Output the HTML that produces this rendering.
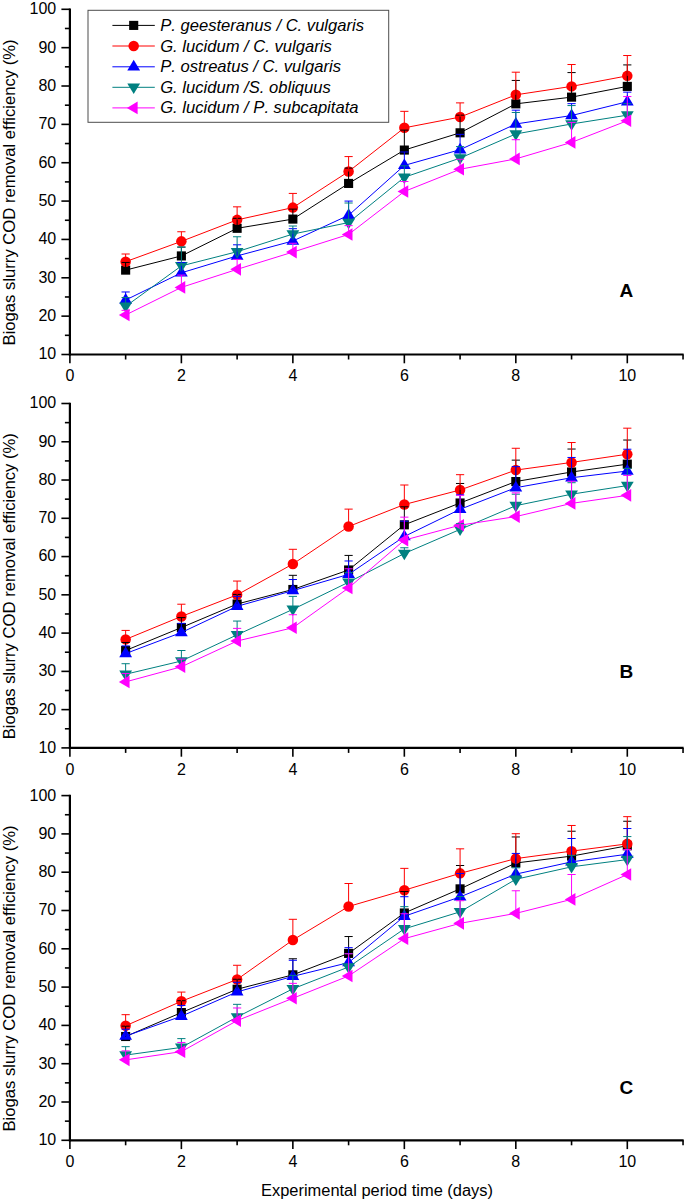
<!DOCTYPE html>
<html lang="en">
<head>
<meta charset="utf-8">
<title>Biogas slurry COD removal efficiency</title>
<style>
html,body{margin:0;padding:0;background:#fff;}
body{width:685px;height:1203px;overflow:hidden;font-family:"Liberation Sans",Arial,sans-serif;}
svg{display:block;}
text{font-kerning:none;font-variant-ligatures:none;}
</style>
</head>
<body>
<svg width="685" height="1203" viewBox="0 0 685 1203" font-family="Liberation Sans, Arial, sans-serif">
<rect width="685" height="1203" fill="#ffffff"/>
<g stroke="#000" stroke-width="2.2" fill="none" stroke-linecap="butt">
<path d="M69.90,8.50 V355.50"/>
<path d="M68.90,354.50 H683.64"/>
</g>
<g stroke="#000" stroke-width="1.6" fill="none">
<path d="M61.40,354.50 H69.90"/>
<path d="M64.90,335.32 H69.90"/>
<path d="M61.40,316.14 H69.90"/>
<path d="M64.90,296.97 H69.90"/>
<path d="M61.40,277.79 H69.90"/>
<path d="M64.90,258.61 H69.90"/>
<path d="M61.40,239.43 H69.90"/>
<path d="M64.90,220.26 H69.90"/>
<path d="M61.40,201.08 H69.90"/>
<path d="M64.90,181.90 H69.90"/>
<path d="M61.40,162.72 H69.90"/>
<path d="M64.90,143.54 H69.90"/>
<path d="M61.40,124.37 H69.90"/>
<path d="M64.90,105.19 H69.90"/>
<path d="M61.40,86.01 H69.90"/>
<path d="M64.90,66.83 H69.90"/>
<path d="M61.40,47.66 H69.90"/>
<path d="M64.90,28.48 H69.90"/>
<path d="M61.40,9.30 H69.90"/>
<path d="M69.90,354.50 V363.30"/>
<path d="M125.64,354.50 V359.50"/>
<path d="M181.38,354.50 V363.30"/>
<path d="M237.12,354.50 V359.50"/>
<path d="M292.86,354.50 V363.30"/>
<path d="M348.60,354.50 V359.50"/>
<path d="M404.34,354.50 V363.30"/>
<path d="M460.08,354.50 V359.50"/>
<path d="M515.82,354.50 V363.30"/>
<path d="M571.56,354.50 V359.50"/>
<path d="M627.30,354.50 V363.30"/>
<path d="M683.04,354.50 V359.50"/>
</g>
<g font-size="16.0" fill="#000">
<text x="56.20" y="359.40" text-anchor="end">10</text>
<text x="56.20" y="321.04" text-anchor="end">20</text>
<text x="56.20" y="282.69" text-anchor="end">30</text>
<text x="56.20" y="244.33" text-anchor="end">40</text>
<text x="56.20" y="205.98" text-anchor="end">50</text>
<text x="56.20" y="167.62" text-anchor="end">60</text>
<text x="56.20" y="129.27" text-anchor="end">70</text>
<text x="56.20" y="90.91" text-anchor="end">80</text>
<text x="56.20" y="52.56" text-anchor="end">90</text>
<text x="56.20" y="14.20" text-anchor="end">100</text>
<text x="69.90" y="381.20" text-anchor="middle">0</text>
<text x="181.38" y="381.20" text-anchor="middle">2</text>
<text x="292.86" y="381.20" text-anchor="middle">4</text>
<text x="404.34" y="381.20" text-anchor="middle">6</text>
<text x="515.82" y="381.20" text-anchor="middle">8</text>
<text x="627.30" y="381.20" text-anchor="middle">10</text>
</g>
<text transform="translate(15.4,192.40) rotate(-90)" font-size="16.65" text-anchor="middle" fill="#000">Biogas slurry COD removal efficiency (%)</text>
<text x="619.5" y="297" font-size="19" font-weight="bold" fill="#000">A</text>
<polyline points="125.64,270.12 181.38,255.93 237.12,228.31 292.86,219.10 348.60,183.43 404.34,150.06 460.08,132.80 515.82,103.85 571.56,97.13 627.30,86.39" fill="none" stroke="#000000" stroke-width="1"/>
<rect x="121.09" y="265.57" width="9.1" height="9.1" fill="#000000"/>
<rect x="176.83" y="251.38" width="9.1" height="9.1" fill="#000000"/>
<rect x="232.57" y="223.76" width="9.1" height="9.1" fill="#000000"/>
<rect x="288.31" y="214.55" width="9.1" height="9.1" fill="#000000"/>
<rect x="344.05" y="178.88" width="9.1" height="9.1" fill="#000000"/>
<rect x="399.79" y="145.51" width="9.1" height="9.1" fill="#000000"/>
<rect x="455.53" y="128.25" width="9.1" height="9.1" fill="#000000"/>
<rect x="511.27" y="99.30" width="9.1" height="9.1" fill="#000000"/>
<rect x="567.01" y="92.58" width="9.1" height="9.1" fill="#000000"/>
<rect x="622.75" y="81.84" width="9.1" height="9.1" fill="#000000"/>
<polyline points="125.64,261.68 181.38,241.35 237.12,219.87 292.86,207.60 348.60,171.54 404.34,127.82 460.08,117.08 515.82,94.83 571.56,86.39 627.30,75.85" fill="none" stroke="#ff0000" stroke-width="1"/>
<circle cx="125.64" cy="261.68" r="5.25" fill="#ff0000"/>
<circle cx="181.38" cy="241.35" r="5.25" fill="#ff0000"/>
<circle cx="237.12" cy="219.87" r="5.25" fill="#ff0000"/>
<circle cx="292.86" cy="207.60" r="5.25" fill="#ff0000"/>
<circle cx="348.60" cy="171.54" r="5.25" fill="#ff0000"/>
<circle cx="404.34" cy="127.82" r="5.25" fill="#ff0000"/>
<circle cx="460.08" cy="117.08" r="5.25" fill="#ff0000"/>
<circle cx="515.82" cy="94.83" r="5.25" fill="#ff0000"/>
<circle cx="571.56" cy="86.39" r="5.25" fill="#ff0000"/>
<circle cx="627.30" cy="75.85" r="5.25" fill="#ff0000"/>
<polyline points="125.64,300.04 181.38,272.80 237.12,255.93 292.86,240.97 348.60,215.27 404.34,165.41 460.08,149.68 515.82,123.98 571.56,115.54 627.30,101.74" fill="none" stroke="#0000ff" stroke-width="1"/>
<polygon points="125.64,293.04 119.24,303.74 132.04,303.74" fill="#0000ff"/>
<polygon points="181.38,265.80 174.98,276.50 187.78,276.50" fill="#0000ff"/>
<polygon points="237.12,248.93 230.72,259.63 243.52,259.63" fill="#0000ff"/>
<polygon points="292.86,233.97 286.46,244.67 299.26,244.67" fill="#0000ff"/>
<polygon points="348.60,208.27 342.20,218.97 355.00,218.97" fill="#0000ff"/>
<polygon points="404.34,158.41 397.94,169.11 410.74,169.11" fill="#0000ff"/>
<polygon points="460.08,142.68 453.68,153.38 466.48,153.38" fill="#0000ff"/>
<polygon points="515.82,116.98 509.42,127.68 522.22,127.68" fill="#0000ff"/>
<polygon points="571.56,108.54 565.16,119.24 577.96,119.24" fill="#0000ff"/>
<polygon points="627.30,94.74 620.90,105.44 633.70,105.44" fill="#0000ff"/>
<polyline points="125.64,306.36 181.38,265.90 237.12,251.71 292.86,234.06 348.60,222.56 404.34,177.30 460.08,158.12 515.82,133.96 571.56,123.98 627.30,115.16" fill="none" stroke="#008080" stroke-width="1"/>
<polygon points="125.64,313.06 119.24,302.56 132.04,302.56" fill="#008080"/>
<polygon points="181.38,272.60 174.98,262.10 187.78,262.10" fill="#008080"/>
<polygon points="237.12,258.41 230.72,247.91 243.52,247.91" fill="#008080"/>
<polygon points="292.86,240.76 286.46,230.26 299.26,230.26" fill="#008080"/>
<polygon points="348.60,229.26 342.20,218.76 355.00,218.76" fill="#008080"/>
<polygon points="404.34,184.00 397.94,173.50 410.74,173.50" fill="#008080"/>
<polygon points="460.08,164.82 453.68,154.32 466.48,154.32" fill="#008080"/>
<polygon points="515.82,140.66 509.42,130.16 522.22,130.16" fill="#008080"/>
<polygon points="571.56,130.68 565.16,120.18 577.96,120.18" fill="#008080"/>
<polygon points="627.30,121.86 620.90,111.36 633.70,111.36" fill="#008080"/>
<polyline points="125.64,314.99 181.38,287.38 237.12,269.35 292.86,252.09 348.60,234.45 404.34,191.49 460.08,169.24 515.82,158.89 571.56,142.39 627.30,120.72" fill="none" stroke="#ff00ff" stroke-width="1"/>
<polygon points="118.84,314.99 129.54,308.69 129.54,321.29" fill="#ff00ff"/>
<polygon points="174.58,287.38 185.28,281.08 185.28,293.68" fill="#ff00ff"/>
<polygon points="230.32,269.35 241.02,263.05 241.02,275.65" fill="#ff00ff"/>
<polygon points="286.06,252.09 296.76,245.79 296.76,258.39" fill="#ff00ff"/>
<polygon points="341.80,234.45 352.50,228.15 352.50,240.75" fill="#ff00ff"/>
<polygon points="397.54,191.49 408.24,185.19 408.24,197.79" fill="#ff00ff"/>
<polygon points="453.28,169.24 463.98,162.94 463.98,175.54" fill="#ff00ff"/>
<polygon points="509.02,158.89 519.72,152.59 519.72,165.19" fill="#ff00ff"/>
<polygon points="564.76,142.39 575.46,136.09 575.46,148.69" fill="#ff00ff"/>
<polygon points="620.50,120.72 631.20,114.42 631.20,127.02" fill="#ff00ff"/>
<path d="M125.64,270.12 V262.45 M121.54,262.45 H129.74 M181.38,255.93 V247.10 M177.28,247.10 H185.48 M237.12,228.31 V218.34 M233.02,218.34 H241.22 M292.86,219.10 V209.13 M288.76,209.13 H296.96 M348.60,183.43 V168.09 M344.50,168.09 H352.70 M404.34,150.06 V130.12 M400.24,130.12 H408.44 M460.08,132.80 V115.16 M455.98,115.16 H464.18 M515.82,103.85 V80.45 M511.72,80.45 H519.92 M571.56,97.13 V72.59 M567.46,72.59 H575.66 M627.30,86.39 V64.92 M623.20,64.92 H631.40" fill="none" stroke="#000000" stroke-width="1"/>
<path d="M125.64,261.68 V254.01 M121.54,254.01 H129.74 M181.38,241.35 V231.76 M177.28,231.76 H185.48 M237.12,219.87 V206.83 M233.02,206.83 H241.22 M292.86,207.60 V193.41 M288.76,193.41 H296.96 M348.60,171.54 V156.59 M344.50,156.59 H352.70 M404.34,127.82 V111.33 M400.24,111.33 H408.44 M460.08,117.08 V102.89 M455.98,102.89 H464.18 M515.82,94.83 V72.20 M511.72,72.20 H519.92 M571.56,86.39 V64.53 M567.46,64.53 H575.66 M627.30,75.85 V55.52 M623.20,55.52 H631.40" fill="none" stroke="#ff0000" stroke-width="1"/>
<path d="M125.64,300.04 V291.98 M121.54,291.98 H129.74 M181.38,272.80 V262.45 M177.28,262.45 H185.48 M237.12,255.93 V244.80 M233.02,244.80 H241.22 M292.86,240.97 V228.69 M288.76,228.69 H296.96 M348.60,215.27 V201.08 M344.50,201.08 H352.70 M404.34,165.41 V151.98 M400.24,151.98 H408.44 M460.08,149.68 V134.34 M455.98,134.34 H464.18 M515.82,123.98 V110.18 M511.72,110.18 H519.92 M571.56,115.54 V103.65 M567.46,103.65 H575.66 M627.30,101.74 V92.15 M623.20,92.15 H631.40" fill="none" stroke="#0000ff" stroke-width="1"/>
<path d="M125.64,306.36 V297.54 M121.54,297.54 H129.74 M181.38,265.90 V247.10 M177.28,247.10 H185.48 M237.12,251.71 V236.75 M233.02,236.75 H241.22 M292.86,234.06 V226.01 M288.76,226.01 H296.96 M348.60,222.56 V203.00 M344.50,203.00 H352.70 M404.34,177.30 V165.79 M400.24,165.79 H408.44 M460.08,158.12 V146.61 M455.98,146.61 H464.18 M515.82,133.96 V112.48 M511.72,112.48 H519.92 M571.56,123.98 V105.57 M567.46,105.57 H575.66 M627.30,115.16 V103.65 M623.20,103.65 H631.40" fill="none" stroke="#008080" stroke-width="1"/>
<path d="M125.64,314.99 V310.39 M121.54,310.39 H129.74 M181.38,287.38 V275.10 M177.28,275.10 H185.48 M237.12,269.35 V259.38 M233.02,259.38 H241.22 M292.86,252.09 V243.27 M288.76,243.27 H296.96 M348.60,234.45 V225.63 M344.50,225.63 H352.70 M404.34,191.49 V181.52 M400.24,181.52 H408.44 M460.08,169.24 V159.27 M455.98,159.27 H464.18 M515.82,158.89 V139.71 M511.72,139.71 H519.92 M571.56,142.39 V122.45 M567.46,122.45 H575.66 M627.30,120.72 V96.56 M623.20,96.56 H631.40" fill="none" stroke="#ff00ff" stroke-width="1"/>
<g stroke="#000" stroke-width="2.2" fill="none" stroke-linecap="butt">
<path d="M69.90,402.70 V748.90"/>
<path d="M68.90,747.90 H683.64"/>
</g>
<g stroke="#000" stroke-width="1.6" fill="none">
<path d="M61.40,747.90 H69.90"/>
<path d="M64.90,728.77 H69.90"/>
<path d="M61.40,709.63 H69.90"/>
<path d="M64.90,690.50 H69.90"/>
<path d="M61.40,671.37 H69.90"/>
<path d="M64.90,652.23 H69.90"/>
<path d="M61.40,633.10 H69.90"/>
<path d="M64.90,613.97 H69.90"/>
<path d="M61.40,594.83 H69.90"/>
<path d="M64.90,575.70 H69.90"/>
<path d="M61.40,556.57 H69.90"/>
<path d="M64.90,537.43 H69.90"/>
<path d="M61.40,518.30 H69.90"/>
<path d="M64.90,499.17 H69.90"/>
<path d="M61.40,480.03 H69.90"/>
<path d="M64.90,460.90 H69.90"/>
<path d="M61.40,441.77 H69.90"/>
<path d="M64.90,422.63 H69.90"/>
<path d="M61.40,403.50 H69.90"/>
<path d="M69.90,747.90 V756.70"/>
<path d="M125.64,747.90 V752.90"/>
<path d="M181.38,747.90 V756.70"/>
<path d="M237.12,747.90 V752.90"/>
<path d="M292.86,747.90 V756.70"/>
<path d="M348.60,747.90 V752.90"/>
<path d="M404.34,747.90 V756.70"/>
<path d="M460.08,747.90 V752.90"/>
<path d="M515.82,747.90 V756.70"/>
<path d="M571.56,747.90 V752.90"/>
<path d="M627.30,747.90 V756.70"/>
<path d="M683.04,747.90 V752.90"/>
</g>
<g font-size="16.0" fill="#000">
<text x="56.20" y="752.80" text-anchor="end">10</text>
<text x="56.20" y="714.53" text-anchor="end">20</text>
<text x="56.20" y="676.27" text-anchor="end">30</text>
<text x="56.20" y="638.00" text-anchor="end">40</text>
<text x="56.20" y="599.73" text-anchor="end">50</text>
<text x="56.20" y="561.47" text-anchor="end">60</text>
<text x="56.20" y="523.20" text-anchor="end">70</text>
<text x="56.20" y="484.93" text-anchor="end">80</text>
<text x="56.20" y="446.67" text-anchor="end">90</text>
<text x="56.20" y="408.40" text-anchor="end">100</text>
<text x="69.90" y="774.60" text-anchor="middle">0</text>
<text x="181.38" y="774.60" text-anchor="middle">2</text>
<text x="292.86" y="774.60" text-anchor="middle">4</text>
<text x="404.34" y="774.60" text-anchor="middle">6</text>
<text x="515.82" y="774.60" text-anchor="middle">8</text>
<text x="627.30" y="774.60" text-anchor="middle">10</text>
</g>
<text transform="translate(15.4,586.20) rotate(-90)" font-size="16.65" text-anchor="middle" fill="#000">Biogas slurry COD removal efficiency (%)</text>
<text x="619.5" y="677.5" font-size="19" font-weight="bold" fill="#000">B</text>
<polyline points="125.64,650.51 181.38,627.55 237.12,604.02 292.86,589.48 348.60,569.96 404.34,524.81 460.08,502.99 515.82,481.56 571.56,472.00 627.30,464.15" fill="none" stroke="#000000" stroke-width="1"/>
<rect x="121.09" y="645.96" width="9.1" height="9.1" fill="#000000"/>
<rect x="176.83" y="623.00" width="9.1" height="9.1" fill="#000000"/>
<rect x="232.57" y="599.47" width="9.1" height="9.1" fill="#000000"/>
<rect x="288.31" y="584.93" width="9.1" height="9.1" fill="#000000"/>
<rect x="344.05" y="565.41" width="9.1" height="9.1" fill="#000000"/>
<rect x="399.79" y="520.26" width="9.1" height="9.1" fill="#000000"/>
<rect x="455.53" y="498.44" width="9.1" height="9.1" fill="#000000"/>
<rect x="511.27" y="477.01" width="9.1" height="9.1" fill="#000000"/>
<rect x="567.01" y="467.45" width="9.1" height="9.1" fill="#000000"/>
<rect x="622.75" y="459.60" width="9.1" height="9.1" fill="#000000"/>
<polyline points="125.64,639.41 181.38,616.45 237.12,594.83 292.86,564.03 348.60,526.53 404.34,504.52 460.08,489.98 515.82,470.08 571.56,462.43 627.30,454.20" fill="none" stroke="#ff0000" stroke-width="1"/>
<circle cx="125.64" cy="639.41" r="5.25" fill="#ff0000"/>
<circle cx="181.38" cy="616.45" r="5.25" fill="#ff0000"/>
<circle cx="237.12" cy="594.83" r="5.25" fill="#ff0000"/>
<circle cx="292.86" cy="564.03" r="5.25" fill="#ff0000"/>
<circle cx="348.60" cy="526.53" r="5.25" fill="#ff0000"/>
<circle cx="404.34" cy="504.52" r="5.25" fill="#ff0000"/>
<circle cx="460.08" cy="489.98" r="5.25" fill="#ff0000"/>
<circle cx="515.82" cy="470.08" r="5.25" fill="#ff0000"/>
<circle cx="571.56" cy="462.43" r="5.25" fill="#ff0000"/>
<circle cx="627.30" cy="454.20" r="5.25" fill="#ff0000"/>
<polyline points="125.64,653.57 181.38,632.53 237.12,606.31 292.86,590.62 348.60,574.36 404.34,536.48 460.08,509.31 515.82,487.69 571.56,477.74 627.30,471.04" fill="none" stroke="#0000ff" stroke-width="1"/>
<polygon points="125.64,646.57 119.24,657.27 132.04,657.27" fill="#0000ff"/>
<polygon points="181.38,625.53 174.98,636.23 187.78,636.23" fill="#0000ff"/>
<polygon points="237.12,599.31 230.72,610.01 243.52,610.01" fill="#0000ff"/>
<polygon points="292.86,583.62 286.46,594.32 299.26,594.32" fill="#0000ff"/>
<polygon points="348.60,567.36 342.20,578.06 355.00,578.06" fill="#0000ff"/>
<polygon points="404.34,529.48 397.94,540.18 410.74,540.18" fill="#0000ff"/>
<polygon points="460.08,502.31 453.68,513.01 466.48,513.01" fill="#0000ff"/>
<polygon points="515.82,480.69 509.42,491.39 522.22,491.39" fill="#0000ff"/>
<polygon points="571.56,470.74 565.16,481.44 577.96,481.44" fill="#0000ff"/>
<polygon points="627.30,464.04 620.90,474.74 633.70,474.74" fill="#0000ff"/>
<polyline points="125.64,674.24 181.38,661.03 237.12,634.82 292.86,609.37 348.60,582.21 404.34,553.51 460.08,529.40 515.82,505.67 571.56,494.19 627.30,485.58" fill="none" stroke="#008080" stroke-width="1"/>
<polygon points="125.64,680.94 119.24,670.44 132.04,670.44" fill="#008080"/>
<polygon points="181.38,667.73 174.98,657.23 187.78,657.23" fill="#008080"/>
<polygon points="237.12,641.52 230.72,631.02 243.52,631.02" fill="#008080"/>
<polygon points="292.86,616.07 286.46,605.57 299.26,605.57" fill="#008080"/>
<polygon points="348.60,588.91 342.20,578.41 355.00,578.41" fill="#008080"/>
<polygon points="404.34,560.21 397.94,549.71 410.74,549.71" fill="#008080"/>
<polygon points="460.08,536.10 453.68,525.60 466.48,525.60" fill="#008080"/>
<polygon points="515.82,512.37 509.42,501.87 522.22,501.87" fill="#008080"/>
<polygon points="571.56,500.89 565.16,490.39 577.96,490.39" fill="#008080"/>
<polygon points="627.30,492.28 620.90,481.78 633.70,481.78" fill="#008080"/>
<polyline points="125.64,681.89 181.38,666.77 237.12,641.02 292.86,627.74 348.60,587.95 404.34,540.11 460.08,525.19 515.82,516.58 571.56,503.38 627.30,495.34" fill="none" stroke="#ff00ff" stroke-width="1"/>
<polygon points="118.84,681.89 129.54,675.59 129.54,688.19" fill="#ff00ff"/>
<polygon points="174.58,666.77 185.28,660.47 185.28,673.07" fill="#ff00ff"/>
<polygon points="230.32,641.02 241.02,634.72 241.02,647.32" fill="#ff00ff"/>
<polygon points="286.06,627.74 296.76,621.44 296.76,634.04" fill="#ff00ff"/>
<polygon points="341.80,587.95 352.50,581.65 352.50,594.25" fill="#ff00ff"/>
<polygon points="397.54,540.11 408.24,533.81 408.24,546.41" fill="#ff00ff"/>
<polygon points="453.28,525.19 463.98,518.89 463.98,531.49" fill="#ff00ff"/>
<polygon points="509.02,516.58 519.72,510.28 519.72,522.88" fill="#ff00ff"/>
<polygon points="564.76,503.38 575.46,497.08 575.46,509.68" fill="#ff00ff"/>
<polygon points="620.50,495.34 631.20,489.04 631.20,501.64" fill="#ff00ff"/>
<path d="M125.64,650.51 V642.48 M121.54,642.48 H129.74 M181.38,627.55 V617.60 M177.28,617.60 H185.48 M237.12,604.02 V594.45 M233.02,594.45 H241.22 M292.86,589.48 V575.32 M288.76,575.32 H296.96 M348.60,569.96 V555.42 M344.50,555.42 H352.70 M404.34,524.81 V506.82 M400.24,506.82 H408.44 M460.08,502.99 V483.48 M455.98,483.48 H464.18 M515.82,481.56 V460.13 M511.72,460.13 H519.92 M571.56,472.00 V449.04 M567.46,449.04 H575.66 M627.30,464.15 V440.04 M623.20,440.04 H631.40" fill="none" stroke="#000000" stroke-width="1"/>
<path d="M125.64,639.41 V630.42 M121.54,630.42 H129.74 M181.38,616.45 V604.21 M177.28,604.21 H185.48 M237.12,594.83 V581.06 M233.02,581.06 H241.22 M292.86,564.03 V549.30 M288.76,549.30 H296.96 M348.60,526.53 V509.12 M344.50,509.12 H352.70 M404.34,504.52 V485.01 M400.24,485.01 H408.44 M460.08,489.98 V474.68 M455.98,474.68 H464.18 M515.82,470.08 V448.27 M511.72,448.27 H519.92 M571.56,462.43 V442.53 M567.46,442.53 H575.66 M627.30,454.20 V428.18 M623.20,428.18 H631.40" fill="none" stroke="#ff0000" stroke-width="1"/>
<path d="M125.64,653.57 V645.92 M121.54,645.92 H129.74 M181.38,632.53 V623.34 M177.28,623.34 H185.48 M237.12,606.31 V596.36 M233.02,596.36 H241.22 M292.86,590.62 V579.53 M288.76,579.53 H296.96 M348.60,574.36 V560.97 M344.50,560.97 H352.70 M404.34,536.48 V521.17 M400.24,521.17 H408.44 M460.08,509.31 V494.77 M455.98,494.77 H464.18 M515.82,487.69 V466.64 M511.72,466.64 H519.92 M571.56,477.74 V457.46 M567.46,457.46 H575.66 M627.30,471.04 V449.23 M623.20,449.23 H631.40" fill="none" stroke="#0000ff" stroke-width="1"/>
<path d="M125.64,674.24 V663.71 M121.54,663.71 H129.74 M181.38,661.03 V650.51 M177.28,650.51 H185.48 M237.12,634.82 V621.05 M233.02,621.05 H241.22 M292.86,609.37 V596.36 M288.76,596.36 H296.96 M348.60,582.21 V572.64 M344.50,572.64 H352.70 M404.34,553.51 V547.77 M400.24,547.77 H408.44 M460.08,529.40 V523.66 M455.98,523.66 H464.18 M515.82,505.67 V494.19 M511.72,494.19 H519.92 M571.56,494.19 V482.71 M567.46,482.71 H575.66 M627.30,485.58 V468.36 M623.20,468.36 H631.40" fill="none" stroke="#008080" stroke-width="1"/>
<path d="M125.64,681.89 V673.47 M121.54,673.47 H129.74 M181.38,666.77 V659.12 M177.28,659.12 H185.48 M237.12,641.02 V628.39 M233.02,628.39 H241.22 M292.86,627.74 V614.73 M288.76,614.73 H296.96 M348.60,587.95 V568.81 M344.50,568.81 H352.70 M404.34,540.11 V517.15 M400.24,517.15 H408.44 M460.08,525.19 V495.34 M455.98,495.34 H464.18 M515.82,516.58 V492.85 M511.72,492.85 H519.92 M571.56,503.38 V481.18 M567.46,481.18 H575.66 M627.30,495.34 V475.44 M623.20,475.44 H631.40" fill="none" stroke="#ff00ff" stroke-width="1"/>
<g stroke="#000" stroke-width="2.2" fill="none" stroke-linecap="butt">
<path d="M69.90,794.80 V1141.30"/>
<path d="M68.90,1140.30 H683.64"/>
</g>
<g stroke="#000" stroke-width="1.6" fill="none">
<path d="M61.40,1140.30 H69.90"/>
<path d="M64.90,1121.15 H69.90"/>
<path d="M61.40,1102.00 H69.90"/>
<path d="M64.90,1082.85 H69.90"/>
<path d="M61.40,1063.70 H69.90"/>
<path d="M64.90,1044.55 H69.90"/>
<path d="M61.40,1025.40 H69.90"/>
<path d="M64.90,1006.25 H69.90"/>
<path d="M61.40,987.10 H69.90"/>
<path d="M64.90,967.95 H69.90"/>
<path d="M61.40,948.80 H69.90"/>
<path d="M64.90,929.65 H69.90"/>
<path d="M61.40,910.50 H69.90"/>
<path d="M64.90,891.35 H69.90"/>
<path d="M61.40,872.20 H69.90"/>
<path d="M64.90,853.05 H69.90"/>
<path d="M61.40,833.90 H69.90"/>
<path d="M64.90,814.75 H69.90"/>
<path d="M61.40,795.60 H69.90"/>
<path d="M69.90,1140.30 V1149.10"/>
<path d="M125.64,1140.30 V1145.30"/>
<path d="M181.38,1140.30 V1149.10"/>
<path d="M237.12,1140.30 V1145.30"/>
<path d="M292.86,1140.30 V1149.10"/>
<path d="M348.60,1140.30 V1145.30"/>
<path d="M404.34,1140.30 V1149.10"/>
<path d="M460.08,1140.30 V1145.30"/>
<path d="M515.82,1140.30 V1149.10"/>
<path d="M571.56,1140.30 V1145.30"/>
<path d="M627.30,1140.30 V1149.10"/>
<path d="M683.04,1140.30 V1145.30"/>
</g>
<g font-size="16.0" fill="#000">
<text x="56.20" y="1145.20" text-anchor="end">10</text>
<text x="56.20" y="1106.90" text-anchor="end">20</text>
<text x="56.20" y="1068.60" text-anchor="end">30</text>
<text x="56.20" y="1030.30" text-anchor="end">40</text>
<text x="56.20" y="992.00" text-anchor="end">50</text>
<text x="56.20" y="953.70" text-anchor="end">60</text>
<text x="56.20" y="915.40" text-anchor="end">70</text>
<text x="56.20" y="877.10" text-anchor="end">80</text>
<text x="56.20" y="838.80" text-anchor="end">90</text>
<text x="56.20" y="800.50" text-anchor="end">100</text>
<text x="69.90" y="1167.00" text-anchor="middle">0</text>
<text x="181.38" y="1167.00" text-anchor="middle">2</text>
<text x="292.86" y="1167.00" text-anchor="middle">4</text>
<text x="404.34" y="1167.00" text-anchor="middle">6</text>
<text x="515.82" y="1167.00" text-anchor="middle">8</text>
<text x="627.30" y="1167.00" text-anchor="middle">10</text>
</g>
<text transform="translate(15.4,978.45) rotate(-90)" font-size="16.65" text-anchor="middle" fill="#000">Biogas slurry COD removal efficiency (%)</text>
<text x="619.5" y="1093.8" font-size="19" font-weight="bold" fill="#000">C</text>
<polyline points="125.64,1036.51 181.38,1012.57 237.12,989.21 292.86,974.84 348.60,953.40 404.34,912.99 460.08,888.86 515.82,863.01 571.56,856.11 627.30,845.77" fill="none" stroke="#000000" stroke-width="1"/>
<rect x="121.09" y="1031.96" width="9.1" height="9.1" fill="#000000"/>
<rect x="176.83" y="1008.02" width="9.1" height="9.1" fill="#000000"/>
<rect x="232.57" y="984.66" width="9.1" height="9.1" fill="#000000"/>
<rect x="288.31" y="970.29" width="9.1" height="9.1" fill="#000000"/>
<rect x="344.05" y="948.85" width="9.1" height="9.1" fill="#000000"/>
<rect x="399.79" y="908.44" width="9.1" height="9.1" fill="#000000"/>
<rect x="455.53" y="884.31" width="9.1" height="9.1" fill="#000000"/>
<rect x="511.27" y="858.46" width="9.1" height="9.1" fill="#000000"/>
<rect x="567.01" y="851.56" width="9.1" height="9.1" fill="#000000"/>
<rect x="622.75" y="841.22" width="9.1" height="9.1" fill="#000000"/>
<polyline points="125.64,1025.78 181.38,1001.27 237.12,979.44 292.86,939.99 348.60,906.48 404.34,890.20 460.08,873.35 515.82,858.60 571.56,851.13 627.30,843.86" fill="none" stroke="#ff0000" stroke-width="1"/>
<circle cx="125.64" cy="1025.78" r="5.25" fill="#ff0000"/>
<circle cx="181.38" cy="1001.27" r="5.25" fill="#ff0000"/>
<circle cx="237.12" cy="979.44" r="5.25" fill="#ff0000"/>
<circle cx="292.86" cy="939.99" r="5.25" fill="#ff0000"/>
<circle cx="348.60" cy="906.48" r="5.25" fill="#ff0000"/>
<circle cx="404.34" cy="890.20" r="5.25" fill="#ff0000"/>
<circle cx="460.08" cy="873.35" r="5.25" fill="#ff0000"/>
<circle cx="515.82" cy="858.60" r="5.25" fill="#ff0000"/>
<circle cx="571.56" cy="851.13" r="5.25" fill="#ff0000"/>
<circle cx="627.30" cy="843.86" r="5.25" fill="#ff0000"/>
<polyline points="125.64,1036.12 181.38,1016.21 237.12,991.89 292.86,976.38 348.60,962.59 404.34,916.25 460.08,896.90 515.82,874.12 571.56,861.86 627.30,854.20" fill="none" stroke="#0000ff" stroke-width="1"/>
<polygon points="125.64,1029.12 119.24,1039.82 132.04,1039.82" fill="#0000ff"/>
<polygon points="181.38,1009.21 174.98,1019.91 187.78,1019.91" fill="#0000ff"/>
<polygon points="237.12,984.89 230.72,995.59 243.52,995.59" fill="#0000ff"/>
<polygon points="292.86,969.38 286.46,980.08 299.26,980.08" fill="#0000ff"/>
<polygon points="348.60,955.59 342.20,966.29 355.00,966.29" fill="#0000ff"/>
<polygon points="404.34,909.25 397.94,919.95 410.74,919.95" fill="#0000ff"/>
<polygon points="460.08,889.90 453.68,900.60 466.48,900.60" fill="#0000ff"/>
<polygon points="515.82,867.12 509.42,877.82 522.22,877.82" fill="#0000ff"/>
<polygon points="571.56,854.86 565.16,865.56 577.96,865.56" fill="#0000ff"/>
<polygon points="627.30,847.20 620.90,857.90 633.70,857.90" fill="#0000ff"/>
<polyline points="125.64,1055.08 181.38,1047.42 237.12,1016.97 292.86,988.82 348.60,966.99 404.34,928.88 460.08,911.84 515.82,879.29 571.56,866.84 627.30,859.56" fill="none" stroke="#008080" stroke-width="1"/>
<polygon points="125.64,1061.78 119.24,1051.28 132.04,1051.28" fill="#008080"/>
<polygon points="181.38,1054.12 174.98,1043.62 187.78,1043.62" fill="#008080"/>
<polygon points="237.12,1023.67 230.72,1013.17 243.52,1013.17" fill="#008080"/>
<polygon points="292.86,995.52 286.46,985.02 299.26,985.02" fill="#008080"/>
<polygon points="348.60,973.69 342.20,963.19 355.00,963.19" fill="#008080"/>
<polygon points="404.34,935.58 397.94,925.08 410.74,925.08" fill="#008080"/>
<polygon points="460.08,918.54 453.68,908.04 466.48,908.04" fill="#008080"/>
<polygon points="515.82,885.99 509.42,875.49 522.22,875.49" fill="#008080"/>
<polygon points="571.56,873.54 565.16,863.04 577.96,863.04" fill="#008080"/>
<polygon points="627.30,866.26 620.90,855.76 633.70,855.76" fill="#008080"/>
<polyline points="125.64,1059.87 181.38,1051.64 237.12,1020.61 292.86,998.28 348.60,975.99 404.34,938.65 460.08,923.33 515.82,913.37 571.56,899.39 627.30,874.50" fill="none" stroke="#ff00ff" stroke-width="1"/>
<polygon points="118.84,1059.87 129.54,1053.57 129.54,1066.17" fill="#ff00ff"/>
<polygon points="174.58,1051.64 185.28,1045.34 185.28,1057.94" fill="#ff00ff"/>
<polygon points="230.32,1020.61 241.02,1014.31 241.02,1026.91" fill="#ff00ff"/>
<polygon points="286.06,998.28 296.76,991.98 296.76,1004.58" fill="#ff00ff"/>
<polygon points="341.80,975.99 352.50,969.69 352.50,982.29" fill="#ff00ff"/>
<polygon points="397.54,938.65 408.24,932.35 408.24,944.95" fill="#ff00ff"/>
<polygon points="453.28,923.33 463.98,917.03 463.98,929.63" fill="#ff00ff"/>
<polygon points="509.02,913.37 519.72,907.07 519.72,919.67" fill="#ff00ff"/>
<polygon points="564.76,899.39 575.46,893.09 575.46,905.69" fill="#ff00ff"/>
<polygon points="620.50,874.50 631.20,868.20 631.20,880.80" fill="#ff00ff"/>
<path d="M125.64,1036.51 V1026.17 M121.54,1026.17 H129.74 M181.38,1012.57 V1000.70 M177.28,1000.70 H185.48 M237.12,989.21 V979.25 M233.02,979.25 H241.22 M292.86,974.84 V958.76 M288.76,958.76 H296.96 M348.60,953.40 V936.54 M344.50,936.54 H352.70 M404.34,912.99 V891.54 M400.24,891.54 H408.44 M460.08,888.86 V865.50 M455.98,865.50 H464.18 M515.82,863.01 V836.96 M511.72,836.96 H519.92 M571.56,856.11 V831.22 M567.46,831.22 H575.66 M627.30,845.77 V821.26 M623.20,821.26 H631.40" fill="none" stroke="#000000" stroke-width="1"/>
<path d="M125.64,1025.78 V1014.68 M121.54,1014.68 H129.74 M181.38,1001.27 V992.08 M177.28,992.08 H185.48 M237.12,979.44 V965.27 M233.02,965.27 H241.22 M292.86,939.99 V919.31 M288.76,919.31 H296.96 M348.60,906.48 V883.50 M344.50,883.50 H352.70 M404.34,890.20 V868.37 M400.24,868.37 H408.44 M460.08,873.35 V848.84 M455.98,848.84 H464.18 M515.82,858.60 V833.71 M511.72,833.71 H519.92 M571.56,851.13 V825.47 M567.46,825.47 H575.66 M627.30,843.86 V816.66 M623.20,816.66 H631.40" fill="none" stroke="#ff0000" stroke-width="1"/>
<path d="M125.64,1036.12 V1029.23 M121.54,1029.23 H129.74 M181.38,1016.21 V1005.48 M177.28,1005.48 H185.48 M237.12,991.89 V982.31 M233.02,982.31 H241.22 M292.86,976.38 V960.29 M288.76,960.29 H296.96 M348.60,962.59 V947.65 M344.50,947.65 H352.70 M404.34,916.25 V896.71 M400.24,896.71 H408.44 M460.08,896.90 V873.54 M455.98,873.54 H464.18 M515.82,874.12 V853.43 M511.72,853.43 H519.92 M571.56,861.86 V838.50 M567.46,838.50 H575.66 M627.30,854.20 V828.54 M623.20,828.54 H631.40" fill="none" stroke="#0000ff" stroke-width="1"/>
<path d="M125.64,1055.08 V1046.66 M121.54,1046.66 H129.74 M181.38,1047.42 V1038.61 M177.28,1038.61 H185.48 M237.12,1016.97 V1004.34 M233.02,1004.34 H241.22 M292.86,988.82 V975.42 M288.76,975.42 H296.96 M348.60,966.99 V953.59 M344.50,953.59 H352.70 M404.34,928.88 V906.67 M400.24,906.67 H408.44 M460.08,911.84 V896.52 M455.98,896.52 H464.18 M515.82,879.29 V867.80 M511.72,867.80 H519.92 M571.56,866.84 V855.35 M567.46,855.35 H575.66 M627.30,859.56 V836.58 M623.20,836.58 H631.40" fill="none" stroke="#008080" stroke-width="1"/>
<path d="M125.64,1059.87 V1050.87 M121.54,1050.87 H129.74 M181.38,1051.64 V1042.44 M177.28,1042.44 H185.48 M237.12,1020.61 V1007.97 M233.02,1007.97 H241.22 M292.86,998.28 V983.35 M288.76,983.35 H296.96 M348.60,975.99 V953.78 M344.50,953.78 H352.70 M404.34,938.65 V913.76 M400.24,913.76 H408.44 M460.08,923.33 V900.73 M455.98,900.73 H464.18 M515.82,913.37 V890.78 M511.72,890.78 H519.92 M571.56,899.39 V874.50 M567.46,874.50 H575.66 M627.30,874.50 V849.60 M623.20,849.60 H631.40" fill="none" stroke="#ff00ff" stroke-width="1"/>
<rect x="88" y="10.3" width="300.7" height="112" fill="#fff" stroke="#4d4d4d" stroke-width="1"/>
<path d="M112.4,25.4 H154.8" stroke="#000000" stroke-width="1" fill="none"/>
<rect x="129.15" y="20.85" width="9.1" height="9.1" fill="#000000"/>
<text x="160.2" y="30.90" font-size="16.6" font-style="italic" fill="#000">P. geesteranus / C. vulgaris</text>
<path d="M112.4,46.0 H154.8" stroke="#ff0000" stroke-width="1" fill="none"/>
<circle cx="133.70" cy="46.00" r="5.25" fill="#ff0000"/>
<text x="160.2" y="51.50" font-size="16.6" font-style="italic" fill="#000">G. lucidum / C. vulgaris</text>
<path d="M112.4,66.8 H154.8" stroke="#0000ff" stroke-width="1" fill="none"/>
<polygon points="133.70,59.80 127.30,70.50 140.10,70.50" fill="#0000ff"/>
<text x="160.2" y="72.30" font-size="16.6" font-style="italic" fill="#000">P. ostreatus / C. vulgaris</text>
<path d="M112.4,87.3 H154.8" stroke="#008080" stroke-width="1" fill="none"/>
<polygon points="133.70,94.00 127.30,83.50 140.10,83.50" fill="#008080"/>
<text x="160.2" y="92.80" font-size="16.6" font-style="italic" fill="#000">G. lucidum /S. obliquus</text>
<path d="M112.4,107.9 H154.8" stroke="#ff00ff" stroke-width="1" fill="none"/>
<polygon points="126.90,107.90 137.60,101.60 137.60,114.20" fill="#ff00ff"/>
<text x="160.2" y="113.40" font-size="16.6" font-style="italic" fill="#000">G. lucidum / P. subcapitata</text>
<text x="377" y="1196.2" font-size="16.45" text-anchor="middle" fill="#000">Experimental period time (days)</text>
</svg>
</body>
</html>
